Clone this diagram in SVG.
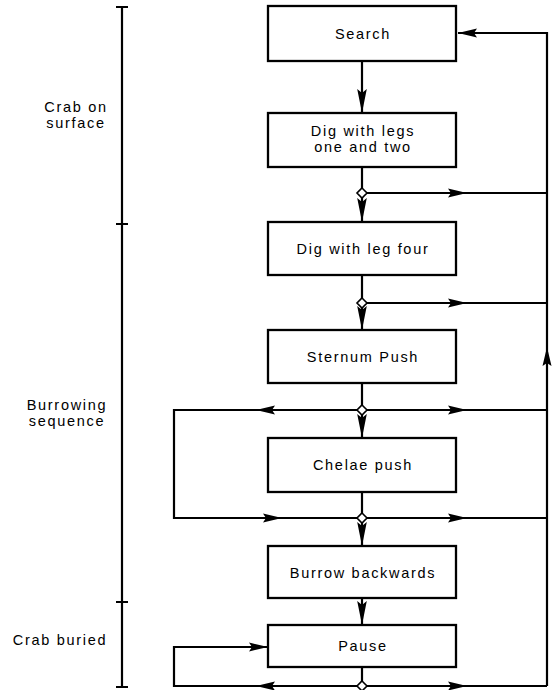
<svg xmlns="http://www.w3.org/2000/svg" xmlns:xlink="http://www.w3.org/1999/xlink" width="556" height="690" viewBox="0 0 556 690">
<defs>
<style>
.box{fill:#fff;stroke:#000;stroke-width:2.3}
.ln{fill:none;stroke:#000;stroke-width:2.2;stroke-linejoin:miter}
.lbl{font-family:"Liberation Sans",Arial,Helvetica,sans-serif;font-size:14.5px;letter-spacing:1.7px;fill:#000;text-anchor:middle}
.dm{fill:#fff;stroke:#000;stroke-width:1.6}
</style>
<path id="ah" d="M0,0 L-19,-4.5 L-16,0 L-19,4.5 Z" fill="#000"/>
<path id="av" d="M0,0 L-24,-4.8 L-20,0 L-24,4.8 Z" fill="#000"/>
<path id="dia" d="M0,-5 L5,0 L0,5 L-5,0 Z"/>
</defs>
<rect width="556" height="690" fill="#fff"/>

<g id="scale">
<path class="ln" d="M122,7 V687 M116,7 H128 M116,224 H128 M116,602 H128 M116,687 H128"/>
<text class="lbl" x="76" y="112">Crab on</text>
<text class="lbl" x="76" y="128">surface</text>
<text class="lbl" x="67" y="410">Burrowing</text>
<text class="lbl" x="67" y="426">sequence</text>
<text class="lbl" x="60" y="645">Crab buried</text>
</g>

<g id="connectors">
<path class="ln" d="M362,61 V113"/>
<path class="ln" d="M362,167 V222"/>
<path class="ln" d="M362,275 V330"/>
<path class="ln" d="M362,383 V438"/>
<path class="ln" d="M362,492 V546"/>
<path class="ln" d="M362,598 V625"/>
<path class="ln" d="M362,667 V686"/>
<path class="ln" d="M362,193 H547 M362,303 H547 M362,410 H547 M362,518 H547 M362,686 H547"/>
<path class="ln" d="M547,686 V33 H458"/>
<path class="ln" d="M362,410 H174 V518 H362"/>
<path class="ln" d="M362,686 H174 V647 H268"/>
<use xlink:href="#av" transform="translate(362,113) rotate(90)"/>
<use xlink:href="#av" transform="translate(362,222) rotate(90)"/>
<use xlink:href="#av" transform="translate(362,330) rotate(90)"/>
<use xlink:href="#av" transform="translate(362,438) rotate(90)"/>
<use xlink:href="#av" transform="translate(362,546) rotate(90)"/>
<use xlink:href="#av" transform="translate(362,625) rotate(90)"/>
<use xlink:href="#ah" transform="translate(467,193)"/>
<use xlink:href="#ah" transform="translate(467,303)"/>
<use xlink:href="#ah" transform="translate(467,410)"/>
<use xlink:href="#ah" transform="translate(467,518)"/>
<use xlink:href="#ah" transform="translate(467,686)"/>
<use xlink:href="#ah" transform="translate(458,33) rotate(180)"/>
<use xlink:href="#ah" transform="translate(547,347) rotate(-90)"/>
<use xlink:href="#ah" transform="translate(256,410) rotate(180)"/>
<use xlink:href="#ah" transform="translate(282,518)"/>
<use xlink:href="#ah" transform="translate(256,686) rotate(180)"/>
<use xlink:href="#ah" transform="translate(268,647)"/>
<use xlink:href="#dia" class="dm" transform="translate(362,193)"/>
<use xlink:href="#dia" class="dm" transform="translate(362,303)"/>
<use xlink:href="#dia" class="dm" transform="translate(362,410)"/>
<use xlink:href="#dia" class="dm" transform="translate(362,518)"/>
<use xlink:href="#dia" class="dm" transform="translate(362,686)"/>
</g>

<g id="search">
<rect class="box" x="268" y="6" width="188" height="55"/>
<text class="lbl" x="363" y="39">Search</text>
</g>
<g id="dig-legs-one-two">
<rect class="box" x="268" y="113" width="188" height="54"/>
<text class="lbl" x="363" y="136">Dig with legs</text>
<text class="lbl" x="363" y="152">one and two</text>
</g>
<g id="dig-leg-four">
<rect class="box" x="268" y="222" width="188" height="53"/>
<text class="lbl" x="363" y="254">Dig with leg four</text>
</g>
<g id="sternum-push">
<rect class="box" x="268" y="330" width="188" height="53"/>
<text class="lbl" x="363" y="362">Sternum Push</text>
</g>
<g id="chelae-push">
<rect class="box" x="268" y="438" width="188" height="54"/>
<text class="lbl" x="363" y="470">Chelae push</text>
</g>
<g id="burrow-backwards">
<rect class="box" x="268" y="546" width="188" height="52"/>
<text class="lbl" x="363" y="578">Burrow backwards</text>
</g>
<g id="pause">
<rect class="box" x="268" y="625" width="188" height="42"/>
<text class="lbl" x="363" y="651">Pause</text>
</g>
</svg>
